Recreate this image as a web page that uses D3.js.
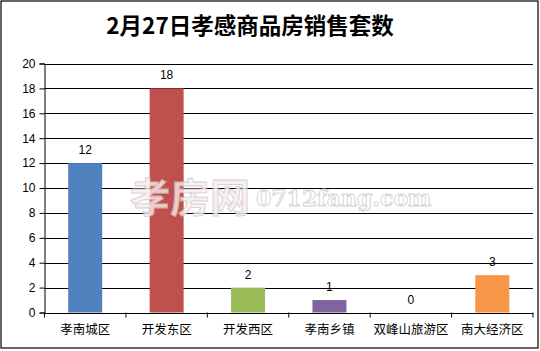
<html lang="zh">
<head>
<meta charset="UTF-8">
<title>2月27日孝感商品房销售套数</title>
<style>
  body { margin: 0; background: #fff; }
  svg { display: block; }
  .tick text { font-family: "Liberation Sans", "DejaVu Sans", sans-serif; font-size: 12px; fill: #000; }
  .cat text { font-family: "Noto Sans CJK SC", sans-serif; font-size: 12.5px; fill: #000; }
</style>
</head>
<body>
<svg id="chart" width="540" height="351"></svg>
<script src="https://d3js.org/d3.v7.min.js"></script>
<script>
// 各区域套数
const categories = ["孝南城区", "开发东区", "开发西区", "孝南乡镇", "双峰山旅游区", "南大经济区"];
const values = [12, 18, 2, 1, 0, 3];
const colors = ["#4F81BD", "#C0504D", "#9BBB59", "#8064A2", "#F79646", "#F79646"];
const yTicks = [0, 2, 4, 6, 8, 10, 12, 14, 16, 18, 20];
const title = "2月27日孝感商品房销售套数";

const svg = d3.select("#chart");
const mLeft = 44.5, mRight = 533, mTop = 63.5, mBottom = 312.5;

// 外框
svg.append("rect").attr("x", 1).attr("y", 1).attr("width", 537).attr("height", 347)
  .attr("fill", "#fff").attr("stroke", "#000").attr("stroke-width", 1.2);

svg.append("text").attr("x", 250).attr("y", 34).attr("text-anchor", "middle")
  .style("font-family", "'Noto Sans CJK SC', serif").style("font-weight", "bold")
  .style("font-size", "22.5px").text(title);

const x = d3.scaleBand().domain(categories).range([mLeft, mRight]);
const y = d3.scaleLinear().domain([0, 20]).range([mBottom, mTop]);

// 网格线
svg.append("g").selectAll("line").data(yTicks).join("line")
  .attr("x1", mLeft).attr("x2", mRight)
  .attr("y1", d => Math.round(y(d)) + 0.5).attr("y2", d => Math.round(y(d)) + 0.5)
  .attr("stroke", "#000").attr("stroke-width", 1);

// 柱子
const bw = 34;
svg.append("g").selectAll("rect").data(values).join("rect")
  .attr("x", (d, i) => x(categories[i]) + x.bandwidth() / 2 - bw / 2)
  .attr("y", d => y(d)).attr("width", bw).attr("height", d => mBottom - y(d))
  .attr("fill", (d, i) => colors[i]);

// 水印（盖在柱子上）
const wm = svg.append("g").attr("opacity", 0.8);
wm.append("text").attr("x", 130).attr("y", 212)
  .style("font-family", "'Noto Sans CJK SC', sans-serif").style("font-size", "40px").style("font-weight", "bold")
  .attr("fill", "#fbeaea").attr("stroke", "#c4c4c4").attr("stroke-width", 0.8).text("孝房网");
wm.append("text").attr("x", 256).attr("y", 206)
  .style("font-family", "'DejaVu Serif', serif").style("font-size", "22px").style("font-weight", "bold")
  .attr("fill", "#fff").attr("stroke", "#c4c4c4").attr("stroke-width", 0.8).text("0712fang.com");

// 数值标签
svg.append("g").selectAll("text").data(values).join("text")
  .attr("x", (d, i) => x(categories[i]) + x.bandwidth() / 2)
  .attr("y", d => y(d) - 9).attr("text-anchor", "middle")
  .style("font-family", "'Liberation Sans', sans-serif").style("font-size", "12px")
  .text(d => d);

// 坐标轴
const yAxis = svg.append("g").attr("transform", `translate(${mLeft},0)`)
  .call(d3.axisLeft(y).tickValues(yTicks).tickSize(5).tickPadding(4));
yAxis.select(".domain").attr("stroke", "#000");

const xAxis = svg.append("g").attr("class", "cat").attr("transform", `translate(0,${mBottom})`)
  .call(d3.axisBottom(x).tickSize(0).tickPadding(10));
xAxis.select(".domain").remove();
xAxis.selectAll("text").attr("dy", "0.9em");
svg.append("g").selectAll("line").data(d3.range(categories.length + 1)).join("line")
  .attr("x1", i => mLeft + i * x.step()).attr("x2", i => mLeft + i * x.step())
  .attr("y1", mBottom).attr("y2", mBottom + 5).attr("stroke", "#000");
</script>
</body>
</html>
